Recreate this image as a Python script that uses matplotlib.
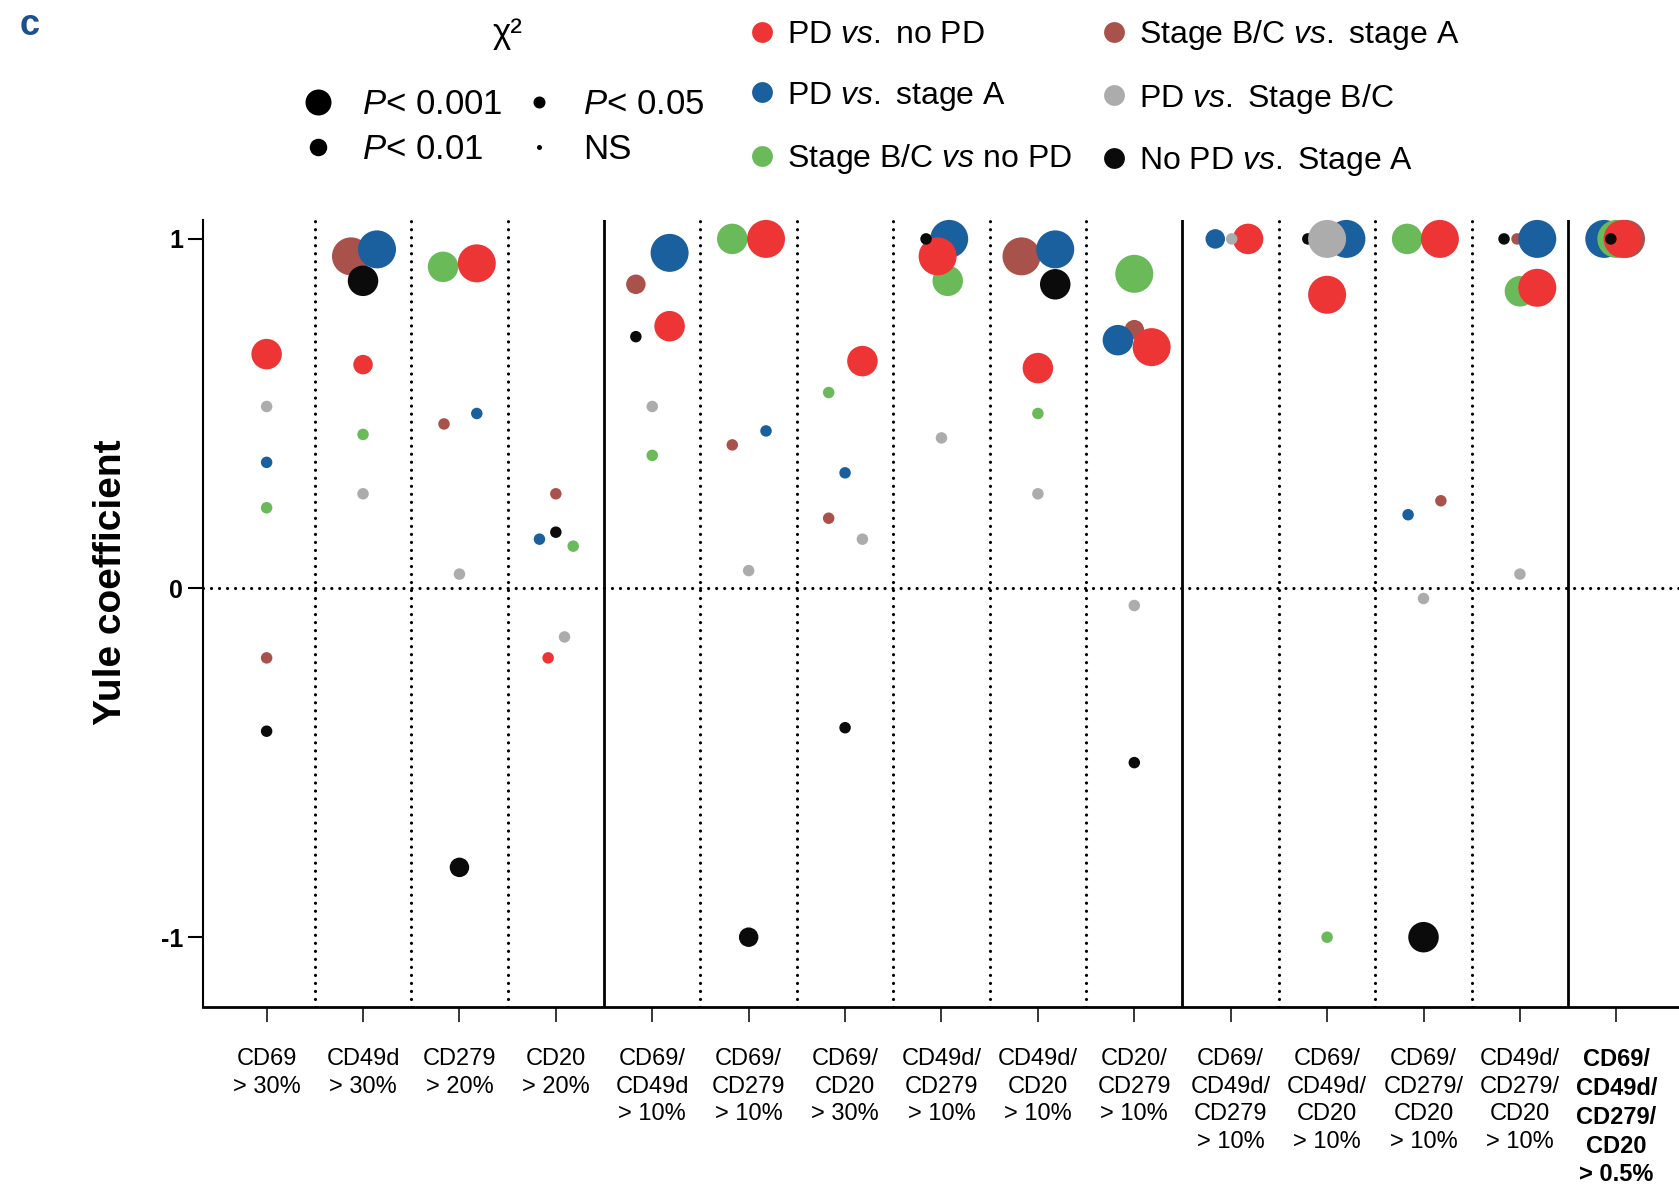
import numpy as np
import matplotlib.pyplot as plt
from matplotlib.lines import Line2D

plt.rcParams['font.family'] = ['Liberation Sans', 'DejaVu Sans']
plt.rcParams['mathtext.fontset'] = 'custom'
plt.rcParams['mathtext.rm'] = 'Liberation Sans'
plt.rcParams['mathtext.it'] = 'Liberation Sans:italic'
plt.rcParams['mathtext.bf'] = 'Liberation Sans:bold'
plt.rcParams['axes.unicode_minus'] = False

nan = np.nan

# marker combinations (x axis)
categories = ['CD69\n> 30%', 'CD49d\n> 30%', 'CD279\n> 20%', 'CD20\n> 20%',
              'CD69/\nCD49d\n> 10%', 'CD69/\nCD279\n> 10%', 'CD69/\nCD20\n> 30%',
              'CD49d/\nCD279\n> 10%', 'CD49d/\nCD20\n> 10%', 'CD20/\nCD279\n> 10%',
              'CD69/\nCD49d/\nCD279\n> 10%', 'CD69/\nCD49d/\nCD20\n> 10%',
              'CD69/\nCD279/\nCD20\n> 10%', 'CD49d/\nCD279/\nCD20\n> 10%',
              'CD69/\nCD49d/\nCD279/\nCD20\n> 0.5%']

comparisons = ['PD $vs.$ no PD', 'PD $vs.$ stage A', 'Stage B/C $vs$ no PD',
               'Stage B/C $vs.$ stage A', 'PD $vs.$ Stage B/C', 'No PD $vs.$ Stage A']

# Yule coefficients, one list per comparison
yule_pd_nopd = [0.67, 0.64, 0.93, -0.20, 0.75, 1.00, 0.65, 0.95, 0.63, 0.69, 1.00, 0.84, 1.00, 0.86, 1.00]
yule_pd_a = [0.36, 0.97, 0.50, 0.14, 0.96, 0.45, 0.33, 1.00, 0.97, 0.71, 1.00, 1.00, 0.21, 1.00, 1.00]
yule_bc_nopd = [0.23, 0.44, 0.92, 0.12, 0.38, 1.00, 0.56, 0.88, 0.50, 0.90, nan, -1.00, 1.00, 0.85, 1.00]
yule_bc_a = [-0.20, 0.95, 0.47, 0.27, 0.87, 0.41, 0.20, nan, 0.95, 0.74, nan, nan, 0.25, 1.00, 1.00]
yule_pd_bc = [0.52, 0.27, 0.04, -0.14, 0.52, 0.05, 0.14, 0.43, 0.27, -0.05, 1.00, 1.00, -0.03, 0.04, nan]
yule_nopd_a = [-0.41, 0.88, -0.80, 0.16, 0.72, -1.00, -0.40, 1.00, 0.87, -0.50, nan, 1.00, -1.00, 1.00, 1.00]

# chi-square significance: 0 = NS, 1 = P<0.05, 2 = P<0.01, 3 = P<0.001
sig_pd_nopd = [2, 1, 3, 0, 2, 3, 2, 3, 2, 3, 2, 3, 3, 3, 3]
sig_pd_a = [0, 3, 0, 0, 3, 0, 0, 3, 3, 2, 1, 3, 0, 3, 3]
sig_bc_nopd = [0, 0, 2, 0, 0, 2, 0, 2, 0, 3, 0, 0, 2, 2, 3]
sig_bc_a = [0, 3, 0, 0, 1, 0, 0, 0, 3, 1, 0, 0, 0, 0, 3]
sig_pd_bc = [0, 0, 0, 0, 0, 0, 0, 0, 0, 0, 0, 3, 0, 0, 0]
sig_nopd_a = [0, 2, 1, 0, 0, 1, 0, 0, 2, 0, 0, 0, 2, 0, 0]

sig_labels = ['$P$< 0.001', '$P$< 0.01', '$P$< 0.05', 'NS']

# horizontal dodge (fraction of a column) so overlapping dots stay visible
dodge_pd_nopd = [0, 0, 0.18, -0.08, 0.18, 0.18, 0.18, -0.04, 0, 0.18, 0.18, 0, 0.17, 0.18, 0.065]
dodge_pd_a = [0, 0.145, 0.18, -0.17, 0.18, 0.18, 0, 0.08, 0.18, -0.17, -0.16, 0.2, -0.16, 0.18, -0.125]
dodge_bc_nopd = [0, 0, -0.17, 0.18, 0, -0.17, -0.17, 0.065, 0, 0, 0, 0, -0.17, 0, 0]
dodge_bc_a = [0, -0.125, -0.16, 0, -0.17, -0.17, -0.17, 0, -0.17, 0, 0, 0, 0.18, -0.03, 0.10]
dodge_pd_bc = [0, 0, 0, 0.09, 0, 0, 0.18, 0, 0, 0, 0.01, 0, 0, 0, 0]
dodge_nopd_a = [0, 0, 0, 0, -0.17, 0, 0, -0.16, 0.18, 0, 0, -0.2, 0, -0.165, -0.057]

colors = ['#ee3535', '#1a5f9e', '#6aba5a', '#a8524b', '#acacac', '#0b0b0b']
dot_px = [11.5, 19.5, 30.5, 38]        # dot diameter (pixels) per significance level
legend_px = [26, 17.5, 12, 5]

series = [
    (yule_pd_nopd, sig_pd_nopd, dodge_pd_nopd),
    (yule_pd_a, sig_pd_a, dodge_pd_a),
    (yule_bc_nopd, sig_bc_nopd, dodge_bc_nopd),
    (yule_bc_a, sig_bc_a, dodge_bc_a),
    (yule_pd_bc, sig_pd_bc, dodge_pd_bc),
    (yule_nopd_a, sig_nopd_a, dodge_nopd_a),
]
# stacking: brown at the back, then blue, green, red, black, grey on top
zorders = [6, 4, 5, 3, 8, 7]

fig = plt.figure(figsize=(16.79, 11.94), dpi=100)
ax = fig.add_axes([0.1209, 0.1566, 0.8791, 0.6591])

x = np.arange(len(categories))
for (vals, sig, dodge), col, z in zip(series, colors, zorders):
    d = np.array([dot_px[s] for s in sig]) * 0.72
    ax.scatter(x + np.array(dodge), vals, s=d ** 2, color=col,
               linewidths=0, zorder=z, clip_on=False)

# column separators
for b in np.arange(len(categories) - 1) + 0.5:
    if b in (3.5, 9.5, 13.5):
        ax.axvline(b, color='black', lw=2.0, zorder=1)
    else:
        ax.axvline(b, color='black', lw=2.3, ls=(0, (0.01, 2.5)),
                   dash_capstyle='round', zorder=1)
ax.axhline(0, color='black', lw=2.3, ls=(0, (0.01, 2.5)),
           dash_capstyle='round', zorder=1)

ax.set_xlim(-0.66, 14.65)
ax.set_ylim(-1.2, 1.054)
ax.set_xticks(x)
ax.set_xticklabels(categories, fontsize=17, linespacing=1.32)
ax.get_xticklabels()[-1].set_fontweight('bold')
ax.set_yticks([-1, 0, 1])
ax.set_yticklabels(['-1', '0', '1'], fontsize=18, fontweight='bold')
ax.tick_params(axis='x', length=10.8, width=1.1, pad=19)
ax.tick_params(axis='y', length=10.8, width=1.5, pad=3.5)
ax.set_ylabel('Yule coefficient', fontsize=28, fontweight='bold')
ax.yaxis.set_label_coords(-0.05, 0.54)

ax.spines['top'].set_visible(False)
ax.spines['right'].set_visible(False)
ax.spines['left'].set_linewidth(1.5)
ax.spines['bottom'].set_linewidth(2.0)

# significance legend
fig.text(0.3026, 0.972, 'χ²', fontsize=25, ha='center', va='center')
sig_handles = [Line2D([], [], marker='o', ls='none', color='black',
                      markersize=p * 0.72, markeredgewidth=0) for p in legend_px]
fig.legend(sig_handles, sig_labels, ncol=2, loc='upper left',
           bbox_to_anchor=(0.179, 0.926), frameon=False, fontsize=25,
           handlelength=1.0, handletextpad=0.77, columnspacing=0.55,
           labelspacing=0.33, borderpad=0, borderaxespad=0)

# comparison legend
comp_handles = [Line2D([], [], marker='o', ls='none', color=c,
                       markersize=15, markeredgewidth=0) for c in colors]
fig.legend(comp_handles, comparisons, ncol=2, loc='upper left',
           bbox_to_anchor=(0.4443, 0.985), frameon=False, fontsize=23,
           handlelength=1.0, handletextpad=0.29, columnspacing=0.8,
           labelspacing=0.93, borderpad=0, borderaxespad=0)

fig.text(0.0115, 0.993, 'c', fontsize=26, fontweight='bold', color='#1d4f8c', va='top')

fig.savefig('out.png', dpi=100)
